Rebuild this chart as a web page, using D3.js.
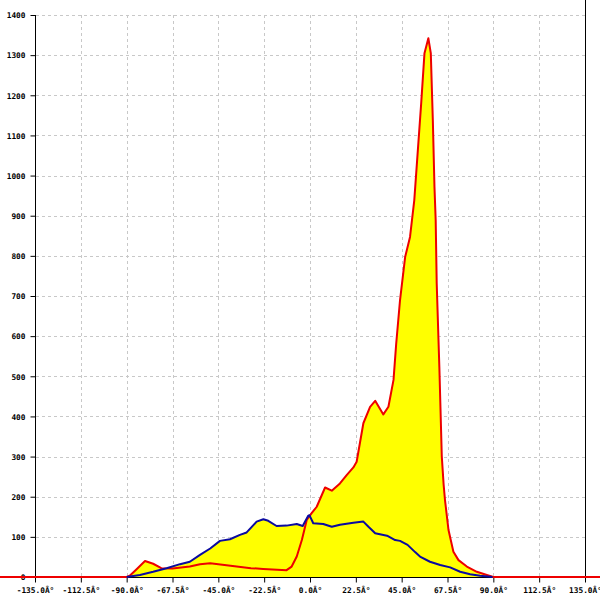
<!DOCTYPE html>
<html>
<head>
<meta charset="utf-8">
<script src="https://cdn.jsdelivr.net/npm/d3@7"></script>
<style>
html,body{margin:0;padding:0;background:#fff;}
svg{display:block;}
.lbl{font-family:"DejaVu Sans Mono",monospace;font-size:7.8px;font-weight:bold;fill:#000;}
</style>
</head>
<body>
<svg id="chart" width="600" height="600"></svg>
<script>
// x tick values (degrees) and labels
const xTicks = [-135, -112.5, -90, -67.5, -45, -22.5, 0, 22.5, 45, 67.5, 90, 112.5, 135];
const xTickLabels = ["-135.0Â°","-112.5Â°","-90.0Â°","-67.5Â°","-45.0Â°","-22.5Â°","0.0Â°","22.5Â°","45.0Â°","67.5Â°","90.0Â°","112.5Â°","135.0Â°"];
const yTicks = [0,100,200,300,400,500,600,700,800,900,1000,1100,1200,1300,1400];

// red series (filled yellow)
const redAngles = [-180,-90,-88.5,-85,-81,-77,-73,-67.5,-59,-54,-49,-44,-39,-29,-23,-11.5,-9,-6.5,-4,-1.6,0.8,3.3,7.4,10.7,14.7,18,21.3,22.9,26.2,29.5,32,36,38.5,41,42.3,44.2,46.7,49.1,51.2,54.6,56.2,58.1,59.3,60.3,61.1,61.7,62.2,63.5,64.7,65.6,66.3,68,70.4,72.9,77,81.9,86.8,90,180];
const redValues = [0,0,3,20,40,33,22,21,26,32,34,31,28,22,20,17,26,51,92,142,159,175,223,215,233,254,273,287,383,424,439,405,424,491,580,690,797,847,939,1181,1305,1342,1305,1138,972,889,732,523,300,230,190,117,63,42,26,13,5,0,0];

// blue series
const blueAngles = [-90,-83.5,-77,-70.4,-63.8,-59,-54,-49,-44.2,-39.3,-34.4,-31.1,-26.2,-22.9,-20.5,-16.4,-11.5,-6.5,-3.6,-0.8,-0.3,1.6,6.5,10.7,14.7,21.3,26.2,28.7,32,37.8,41.8,44.2,47.9,51.6,54,58.9,63.9,68.8,73.7,78.6,83.5,89.6];
const blueValues = [0,5,13,22,32,38,55,71,90,94,105,111,138,144,140,127,128,132,127,153,154,134,132,125,130,135,138,125,109,103,92,90,80,62,51,38,30,24,13,7,3,0];

const svg = d3.select("#chart");
const x = d3.scaleLinear().domain([-135,135]).range([35,585]);
const y = d3.scaleLinear().domain([0,1400]).range([577,15]);

const red = redAngles.map((a,i)=>[a,redValues[i]]);
const blue = blueAngles.map((a,i)=>[a,blueValues[i]]);

// grid
const grid = svg.append("g").attr("stroke","#c8c8c8").attr("stroke-dasharray","3,3").attr("stroke-width",1);
yTicks.filter(v=>v>0).forEach(v=>{
  grid.append("line").attr("x1",x(-135)+1).attr("x2",x(135)).attr("y1",Math.round(y(v))+0.5).attr("y2",Math.round(y(v))+0.5);
});
xTicks.filter(v=>v>-135 && v<135).forEach(v=>{
  grid.append("line").attr("x1",Math.round(x(v))+0.5).attr("x2",Math.round(x(v))+0.5).attr("y1",y(1400)).attr("y2",y(0));
});

// areas
const area = d3.area().x(d=>x(d[0])).y0(y(0)).y1(d=>y(d[1]));
svg.append("path").datum(red).attr("d",area).attr("fill","#ffff00");
svg.append("path").datum(blue).attr("d",area).attr("fill","#ffff00");

// axes
const yAxis = d3.axisLeft(y).tickValues(yTicks).tickSize(5).tickFormat(d3.format("d"));
const gy = svg.append("g").attr("transform",`translate(${Math.round(x(-135))+0.5},0)`).call(yAxis);
gy.select(".domain").attr("d",`M0,${y(1400)}V${y(0)+5}`).attr("stroke","#000");
gy.selectAll(".tick line").attr("stroke","#000");
gy.selectAll(".tick text").attr("class","lbl").attr("x",-10).attr("dy","0.35em");
gy.attr("font-family",null).attr("font-size",null);

const xAxis = d3.axisBottom(x).tickValues(xTicks).tickSize(5).tickFormat((d,i)=>xTickLabels[i]);
const gx = svg.append("g").attr("transform",`translate(0,${Math.round(y(0))+0.5})`).call(xAxis);
gx.select(".domain").attr("d",`M${x(-135)},0H${x(135)}`).attr("stroke","#000");
gx.selectAll(".tick line").attr("stroke","#000");
gx.selectAll(".tick text").attr("class","lbl").attr("y",10).attr("dy","0.71em");
gx.attr("font-family",null).attr("font-size",null);

// right border
svg.append("line").attr("x1",Math.round(x(135))+0.5).attr("x2",Math.round(x(135))+0.5).attr("y1",0).attr("y2",y(0)).attr("stroke","#000");

// lines
const line = d3.line().x(d=>x(d[0])).y(d=>y(d[1]));
svg.append("path").datum(red).attr("d",line).attr("fill","none").attr("stroke","#ee0000").attr("stroke-width",2).attr("stroke-linejoin","round");
svg.append("path").datum(blue).attr("d",line).attr("fill","none").attr("stroke","#0a0aa0").attr("stroke-width",2).attr("stroke-linejoin","round");
</script>
</body>
</html>
